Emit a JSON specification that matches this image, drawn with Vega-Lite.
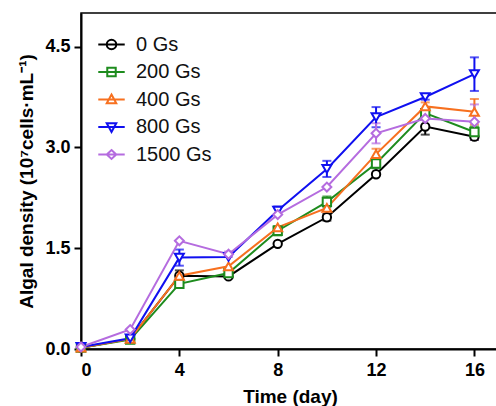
{
  "$schema": "https://vega.github.io/schema/vega-lite/v6.json",
  "autosize": {"type": "none"},
  "padding": {"left": 81, "top": 13, "right": 0, "bottom": 57},
  "width": 418,
  "height": 336,
  "background": "white",
  "params": [{"name": "lshape", "value": {
    "0 Gs": "M-1,0L1,0M0.36,0A0.36,0.36,0,1,1,-0.36,0A0.36,0.36,0,1,1,0.36,0Z",
    "200 Gs": "M-1,0L1,0M-0.32,-0.32L0.32,-0.32L0.32,0.32L-0.32,0.32Z",
    "400 Gs": "M-1,0L1,0M0,-0.38L0.36,0.28L-0.36,0.28Z",
    "800 Gs": "M-1,0L1,0M0,0.38L0.36,-0.28L-0.36,-0.28Z",
    "1500 Gs": "M-1,0L1,0M0,-0.34L0.36,0L0,0.34L-0.36,0Z"}}],
  "config": {
    "font": "Liberation Sans",
    "view": {"stroke": "black", "strokeWidth": 1.5},
    "axis": {"grid": false, "domainColor": "black", "domainWidth": 2, "tickColor": "black", "tickWidth": 2, "tickSize": 7, "labelFont": "Liberation Sans", "labelFontWeight": "bold", "labelFontSize": 18, "labelColor": "black", "titleFont": "Liberation Sans", "titleFontWeight": "bold", "titleFontSize": 19, "titleColor": "black"},
    "legend": {"labelFont": "Liberation Sans", "labelFontSize": 20, "labelColor": "#111", "symbolSize": 700, "symbolStrokeWidth": 2, "labelOffset": 10, "rowPadding": 2.5}
  },
  "resolve": {"legend": {"color": "independent"}},
  "data": {"values": [
    {"day": 0, "value": 0.02, "err": 0, "series": "0 Gs"},
    {"day": 2, "value": 0.15, "err": 0, "series": "0 Gs"},
    {"day": 4, "value": 1.09, "err": 0.08, "series": "0 Gs"},
    {"day": 6, "value": 1.08, "err": 0, "series": "0 Gs"},
    {"day": 8, "value": 1.565, "err": 0, "series": "0 Gs"},
    {"day": 10, "value": 1.96, "err": 0.05, "series": "0 Gs"},
    {"day": 12, "value": 2.6, "err": 0, "series": "0 Gs"},
    {"day": 14, "value": 3.31, "err": 0.12, "series": "0 Gs"},
    {"day": 16, "value": 3.16, "err": 0.05, "series": "0 Gs"},
    {"day": 0, "value": 0.02, "err": 0, "series": "200 Gs"},
    {"day": 2, "value": 0.14, "err": 0, "series": "200 Gs"},
    {"day": 4, "value": 0.97, "err": 0, "series": "200 Gs"},
    {"day": 6, "value": 1.13, "err": 0, "series": "200 Gs"},
    {"day": 8, "value": 1.76, "err": 0.07, "series": "200 Gs"},
    {"day": 10, "value": 2.19, "err": 0.08, "series": "200 Gs"},
    {"day": 12, "value": 2.76, "err": 0.07, "series": "200 Gs"},
    {"day": 14, "value": 3.51, "err": 0.05, "series": "200 Gs"},
    {"day": 16, "value": 3.23, "err": 0.08, "series": "200 Gs"},
    {"day": 0, "value": 0.02, "err": 0, "series": "400 Gs"},
    {"day": 2, "value": 0.15, "err": 0, "series": "400 Gs"},
    {"day": 4, "value": 1.09, "err": 0, "series": "400 Gs"},
    {"day": 6, "value": 1.23, "err": 0, "series": "400 Gs"},
    {"day": 8, "value": 1.81, "err": 0, "series": "400 Gs"},
    {"day": 10, "value": 2.1, "err": 0, "series": "400 Gs"},
    {"day": 12, "value": 2.9, "err": 0.08, "series": "400 Gs"},
    {"day": 14, "value": 3.61, "err": 0.06, "series": "400 Gs"},
    {"day": 16, "value": 3.53, "err": 0.19, "series": "400 Gs"},
    {"day": 0, "value": 0.03, "err": 0, "series": "800 Gs"},
    {"day": 2, "value": 0.16, "err": 0, "series": "800 Gs"},
    {"day": 4, "value": 1.36, "err": 0.12, "series": "800 Gs"},
    {"day": 6, "value": 1.37, "err": 0, "series": "800 Gs"},
    {"day": 8, "value": 2.06, "err": 0.06, "series": "800 Gs"},
    {"day": 10, "value": 2.68, "err": 0.12, "series": "800 Gs"},
    {"day": 12, "value": 3.45, "err": 0.15, "series": "800 Gs"},
    {"day": 14, "value": 3.75, "err": 0.04, "series": "800 Gs"},
    {"day": 16, "value": 4.09, "err": 0.25, "series": "800 Gs"},
    {"day": 0, "value": 0.03, "err": 0, "series": "1500 Gs"},
    {"day": 2, "value": 0.29, "err": 0, "series": "1500 Gs"},
    {"day": 4, "value": 1.61, "err": 0, "series": "1500 Gs"},
    {"day": 6, "value": 1.41, "err": 0.04, "series": "1500 Gs"},
    {"day": 8, "value": 2.0, "err": 0, "series": "1500 Gs"},
    {"day": 10, "value": 2.41, "err": 0, "series": "1500 Gs"},
    {"day": 12, "value": 3.21, "err": 0.15, "series": "1500 Gs"},
    {"day": 14, "value": 3.43, "err": 0, "series": "1500 Gs"},
    {"day": 16, "value": 3.38, "err": 0.26, "series": "1500 Gs"}
  ]},
  "encoding": {
    "x": {"field": "day", "type": "quantitative", "scale": {"domain": [0, 17], "nice": false, "zero": false}, "axis": {"values": [0, 4, 8, 12, 16], "title": "Time (day)", "titlePadding": 8, "labelPadding": 5}},
    "y": {"field": "value", "type": "quantitative", "scale": {"domain": [0, 5], "nice": false}, "axis": {"values": [0, 1.5, 3, 4.5], "format": ".1f", "titlePadding": 8, "labelPadding": 4}, "title": "Algal density (10⁷cells·mL⁻¹)"}
  },
  "layer": [
    {
      "transform": [{"filter": "datum.err > 0"}],
      "mark": {"type": "errorbar", "ticks": true, "size": 9, "thickness": 2},
      "encoding": {
        "y": {"field": "value", "type": "quantitative", "title": "Algal density (10⁷cells·mL⁻¹)"},
        "yError": {"field": "err"},
        "color": {"field": "series", "type": "nominal", "scale": {"domain": ["0 Gs", "200 Gs", "400 Gs", "800 Gs", "1500 Gs"], "range": ["#000000", "#1e8c1e", "#f7701f", "#1010f0", "#b56cdf"]}, "legend": null}
      }
    },
    {
      "mark": {"type": "line", "strokeWidth": 2},
      "encoding": {
        "color": {"field": "series", "type": "nominal", "scale": {"domain": ["0 Gs", "200 Gs", "400 Gs", "800 Gs", "1500 Gs"], "range": ["#000000", "#1e8c1e", "#f7701f", "#1010f0", "#b56cdf"]}, "legend": null}
      }
    },
    {
      "encoding": {
        "color": {"field": "series", "type": "nominal", "scale": {"domain": ["0 Gs", "200 Gs", "400 Gs", "800 Gs", "1500 Gs"], "range": ["#000000", "#1e8c1e", "#f7701f", "#1010f0", "#b56cdf"]},
          "legend": {"title": null, "orient": "none", "legendX": 16, "legendY": 17,
            "encoding": {"symbols": {"fill": {"value": "transparent"}, "strokeWidth": {"value": 2}, "shape": {"value": {"signal": "lshape[datum.value]"}}}}}}
      },
      "layer": [
        {"transform": [{"filter": "datum.series === '0 Gs'"}], "mark": {"type": "point", "shape": "circle", "filled": false, "fill": "white", "strokeWidth": 2, "size": 70, "opacity": 1}},
        {"transform": [{"filter": "datum.series === '200 Gs'"}], "mark": {"type": "point", "shape": "square", "filled": false, "fill": "white", "strokeWidth": 2, "size": 70, "opacity": 1}},
        {"transform": [{"filter": "datum.series === '400 Gs'"}], "mark": {"type": "point", "shape": "triangle-up", "filled": false, "fill": "white", "strokeWidth": 2, "size": 80, "opacity": 1}},
        {"transform": [{"filter": "datum.series === '800 Gs'"}], "mark": {"type": "point", "shape": "triangle-down", "filled": false, "fill": "white", "strokeWidth": 2, "size": 80, "opacity": 1}},
        {"transform": [{"filter": "datum.series === '1500 Gs'"}], "mark": {"type": "point", "shape": "diamond", "filled": false, "fill": "white", "strokeWidth": 2, "size": 80, "opacity": 1}}
      ]
    }
  ]
}
